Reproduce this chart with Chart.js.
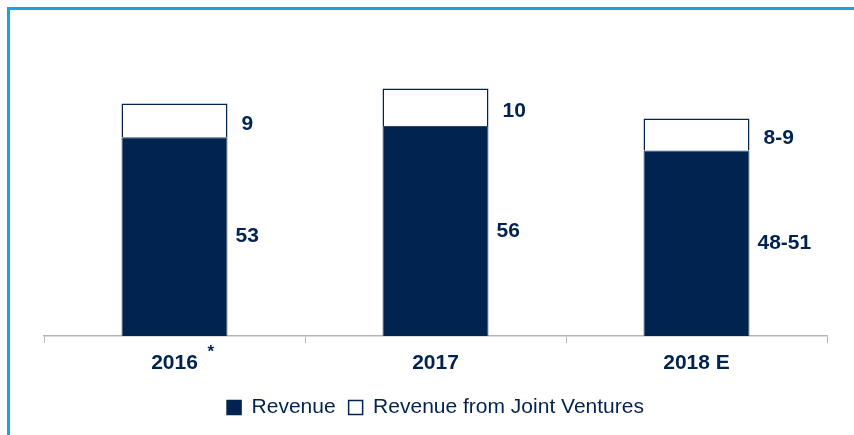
<!DOCTYPE html>
<html>
<head>
<meta charset="utf-8">
<script src="https://cdn.jsdelivr.net/npm/chart.js@4"></script>
<style>
  html, body { margin: 0; padding: 0; background: #fff; }
  #wrap { position: relative; width: 854px; height: 435px; }
  #frame {
    position: absolute; left: 7px; top: 7px; right: 0; bottom: 0;
    border-left: 3px solid #1aa3e0; border-top: 3px solid #1aa3e0;
    pointer-events: none;
  }
</style>
</head>
<body>
<div id="wrap">
  <canvas id="chart" width="854" height="435"></canvas>
  <div id="frame"></div>
</div>
<script>
// ── DATA ──────────────────────────────────────────────────────────────────
const categories   = ['2016', '2017', '2018 E'];
const revenue      = [53, 56, 49.5];
const jvRevenue    = [9, 10, 8.5];
const revenueText  = ['53', '56', '48-51'];
const jvText       = ['9', '10', '8-9'];
const footnotes    = ['*', '', ''];

const NAVY = '#00234f';
const FONT = '"Liberation Sans", Arial, sans-serif';

// value labels to the right of each bar segment
const sideLabels = {
  id: 'sideLabels',
  afterDatasetsDraw(chart) {
    const ctx = chart.ctx;
    const texts = [revenueText, jvText];
    const offsets = [8, 14];
    ctx.save();
    ctx.fillStyle = NAVY;
    ctx.font = 'bold 21px ' + FONT;
    ctx.textAlign = 'left';
    ctx.textBaseline = 'middle';
    chart.data.datasets.forEach(function(ds, di) {
      chart.getDatasetMeta(di).data.forEach(function(bar, i) {
        const x = bar.x + bar.width / 2 + offsets[di];
        const y = (bar.y + bar.base) / 2 + (di === 1 ? 4 : 0);
        ctx.fillText(texts[di][i], x, y);
      });
    });
    // footnote marker on the category label
    const xs = chart.scales.x;
    ctx.font = 'bold 17px ' + FONT;
    footnotes.forEach(function(f, i) {
      if (!f) return;
      ctx.fillText(f, xs.getPixelForValue(i) + 33, xs.top + 16);
    });
    ctx.restore();
  }
};

new Chart(document.getElementById('chart'), {
  type: 'bar',
  data: {
    labels: categories,
    datasets: [{
      label:           'Revenue',
      data:            revenue,
      backgroundColor: NAVY,
      borderColor:     '#2a4470',
      borderWidth:     1
    }, {
      label:           'Revenue from Joint Ventures',
      data:            jvRevenue,
      backgroundColor: '#ffffff',
      borderColor:     NAVY,
      borderWidth:     1.5
    }]
  },
  options: {
    responsive:  false,
    animation:   false,
    categoryPercentage: 1,
    barPercentage:      0.406,
    layout: { padding: { left: 44, right: 27, top: 36, bottom: 7 } },
    plugins: {
      tooltip: { enabled: false },
      legend: {
        position: 'bottom',
        labels: {
          boxWidth:  14,
          boxHeight: 14,
          padding:   13,
          color:     NAVY,
          font:      { family: FONT, size: 21, lineHeight: 1 },
          generateLabels: function(chart) {
            return chart.data.datasets.map(function(ds, i) {
              return {
                text:        ds.label,
                fillStyle:   ds.backgroundColor,
                strokeStyle: NAVY,
                lineWidth:   1.5,
                fontColor:   NAVY,
                datasetIndex: i
              };
            });
          }
        }
      }
    },
    scales: {
      x: {
        stacked: true,
        grid: {
          offset:          true,
          drawOnChartArea: false,
          tickLength:      7,
          color:           '#b5b5b5'
        },
        border: { color: '#b5b5b5', width: 1.5 },
        ticks: {
          color:   NAVY,
          padding: 10,
          font:    { family: FONT, size: 21, weight: 'bold', lineHeight: 1 }
        }
      },
      y: {
        stacked: true,
        display: false,
        min:     0,
        max:     80
      }
    }
  },
  plugins: [sideLabels]
});
</script>
</body>
</html>
